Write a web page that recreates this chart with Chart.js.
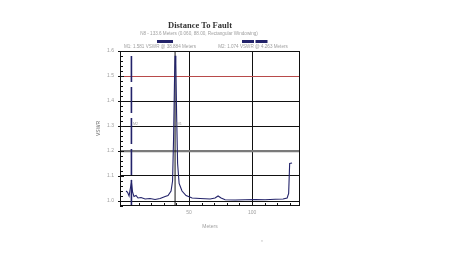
<!DOCTYPE html>
<html lang="en">
<head>
    <meta charset="UTF-8">
    <title>Distance To Fault</title>
    <script src="https://cdn.jsdelivr.net/npm/chart.js"></script>
    <style>
        body {
            margin: 0;
            padding: 0;
            background-color: #fff;
        }
        .chart-container {
            position: relative;
            width: 450px;
            height: 263px;
        }
    </style>
</head>
<body>
    <div class="chart-container">
        <canvas id="dtfChart"></canvas>
    </div>

    <script>
        // Trace (meters, VSWR)
        const distance = [0.0, 1.2, 2.4, 3.2, 4.3, 5.2, 6.3, 7.9, 9.5, 11.9, 15.1, 19.0, 23.0, 27.0, 31.0, 33.3, 35.7, 36.9, 37.7, 38.5, 38.9, 39.5, 40.1, 40.9, 42.1, 44.4, 47.6, 52.4, 58.7, 66.7, 70.6, 73.0, 75.4, 78.6, 86.5, 94.4, 102.4, 110.3, 118.3, 124.6, 127.8, 129.0, 129.8, 131.7];
        const vswr = [1.040, 1.035, 1.020, 1.045, 1.074, 1.035, 1.018, 1.022, 1.012, 1.014, 1.008, 1.010, 1.006, 1.010, 1.018, 1.022, 1.040, 1.080, 1.250, 1.500, 1.581, 1.550, 1.350, 1.150, 1.070, 1.040, 1.022, 1.012, 1.010, 1.008, 1.012, 1.020, 1.012, 1.005, 1.004, 1.005, 1.006, 1.005, 1.007, 1.008, 1.012, 1.030, 1.150, 1.152];

        const markerNames = ['M1', 'M2'];
        const markerDist = [38.884, 4.263];
        const markerVswr = [1.581, 1.074];

        const yTicks = [1.0, 1.1, 1.2, 1.3, 1.4, 1.5, 1.6];
        const xTicks = [50, 100];
        const limitLine = 1.5;
        const refLine = 1.2;

        const navy = '#23236a';
        const textGray = '#a0a0a0';

        // title, legend, frame, minor ticks and marker tags
        const decorations = {
            id: 'decorations',
            afterDraw(chart) {
                const ctx = chart.ctx;
                const area = chart.chartArea;
                const xs = chart.scales.x;
                const ys = chart.scales.y;
                ctx.save();

                ctx.fillStyle = '#333';
                ctx.textAlign = 'center';
                ctx.textBaseline = 'middle';
                ctx.font = 'bold 8.5px "Liberation Serif"';
                ctx.fillText('Distance To Fault', 200, 26);

                ctx.fillStyle = textGray;
                ctx.font = '4.6px "Liberation Sans"';
                ctx.fillText('N8 - 133.6 Meters (0.060, 88.00, Rectangular Windowing)', 199, 34);

                // legend
                const legendX = [160, 253];
                const barX = [[157, 173], [242, 268]];
                markerNames.forEach((name, i) => {
                    ctx.fillStyle = textGray;
                    ctx.font = '4.6px "Liberation Sans"';
                    const txt = name + ': ' + markerVswr[i].toFixed(3) + ' VSWR @ ' + markerDist[i].toFixed(3) + ' Meters';
                    ctx.fillText(txt, legendX[i], 46.5);
                    ctx.strokeStyle = navy;
                    ctx.lineWidth = 3;
                    ctx.setLineDash(i === 1 ? [12, 1.5] : []);
                    ctx.beginPath();
                    ctx.moveTo(barX[i][0], 41.5);
                    ctx.lineTo(barX[i][1], 41.5);
                    ctx.stroke();
                    ctx.setLineDash([]);

                    // marker tag next to the marker line
                    ctx.fillStyle = textGray;
                    ctx.font = '3.8px "Liberation Sans"';
                    ctx.textAlign = 'left';
                    ctx.fillText(name, xs.getPixelForValue(markerDist[i]) + 1.5, ys.getPixelForValue(1.3) - 2.5);
                    ctx.textAlign = 'center';
                });

                // frame
                ctx.strokeStyle = '#111';
                ctx.lineWidth = 1;
                ctx.strokeRect(area.left + 0.5, area.top + 0.5, area.right - area.left - 1, area.bottom - area.top - 1);

                // minor ticks on y
                ctx.beginPath();
                for (let v = 0.98; v <= 1.6001; v += 0.02) {
                    const y = Math.round(ys.getPixelForValue(v)) + 0.5;
                    const major = Math.abs(v * 10 - Math.round(v * 10)) < 0.001;
                    ctx.moveTo(area.left - (major ? 2 : 0), y);
                    ctx.lineTo(area.left + (major ? 4 : 3), y);
                }
                // minor ticks on x
                for (let m = 10; m < 138; m += 10) {
                    const x = Math.round(xs.getPixelForValue(m)) + 0.5;
                    ctx.moveTo(x, area.bottom);
                    ctx.lineTo(x, area.bottom - 3);
                }
                ctx.stroke();

                ctx.fillStyle = '#bbb';
                ctx.font = '5px "Liberation Sans"';
                ctx.fillText('*', 262, 243);
                ctx.restore();
            }
        };

        const traceData = distance.map((d, i) => ({ x: d, y: vswr[i] }));

        const markerSets = markerNames.map((name, i) => ({
            label: name,
            data: [{ x: markerDist[i], y: 0.98 }, { x: markerDist[i], y: 1.6 }],
            borderColor: i === 1 ? navy : '#111',
            borderWidth: i === 1 ? 1.6 : 1,
            borderDash: i === 1 ? [26, 5] : [],
            pointRadius: 0
        }));

        const lineCtx = document.getElementById('dtfChart').getContext('2d');
        new Chart(lineCtx, {
            type: 'line',
            data: {
                datasets: [{
                    label: 'VSWR',
                    data: traceData,
                    borderColor: navy,
                    borderWidth: 1.1,
                    pointRadius: 0,
                    tension: 0
                }].concat(markerSets)
            },
            options: {
                responsive: true,
                maintainAspectRatio: false,
                animation: false,
                layout: {
                    padding: { left: 88, right: 150, top: 51, bottom: 33 }
                },
                plugins: {
                    legend: { display: false },
                    title: { display: false },
                    tooltip: { enabled: false }
                },
                scales: {
                    x: {
                        type: 'linear',
                        min: -4.8,
                        max: 138,
                        afterFit: scale => { scale.height = 24; },
                        afterBuildTicks: scale => { scale.ticks = xTicks.map(v => ({ value: v })); },
                        border: { display: false },
                        grid: {
                            color: '#111',
                            lineWidth: 1,
                            drawTicks: false
                        },
                        ticks: {
                            color: textGray,
                            font: { family: 'Liberation Sans', size: 5 },
                            padding: 4,
                            maxRotation: 0
                        },
                        title: {
                            display: true,
                            text: 'Meters',
                            color: textGray,
                            font: { family: 'Liberation Sans', size: 5 },
                            padding: { top: 3, bottom: 0 }
                        }
                    },
                    y: {
                        min: 0.98,
                        max: 1.6,
                        afterFit: scale => { scale.width = 32; },
                        afterBuildTicks: scale => { scale.ticks = yTicks.map(v => ({ value: v })); },
                        border: { display: false },
                        grid: {
                            color: c => c.tick && Math.abs(c.tick.value - limitLine) < 1e-6 ? '#b84a4a'
                                : c.tick && Math.abs(c.tick.value - refLine) < 1e-6 ? '#7a7a7a' : '#111',
                            lineWidth: c => c.tick && Math.abs(c.tick.value - refLine) < 1e-6 ? 2.2 : 1,
                            drawTicks: false
                        },
                        ticks: {
                            color: textGray,
                            font: { family: 'Liberation Sans', size: 5 },
                            padding: 6,
                            callback: v => v.toFixed(1)
                        },
                        title: {
                            display: true,
                            text: 'VSWR',
                            color: '#666',
                            font: { family: 'Liberation Sans', size: 5 },
                            padding: { top: 8, bottom: 0 }
                        }
                    }
                }
            },
            plugins: [decorations]
        });
    </script>
</body>
</html>
